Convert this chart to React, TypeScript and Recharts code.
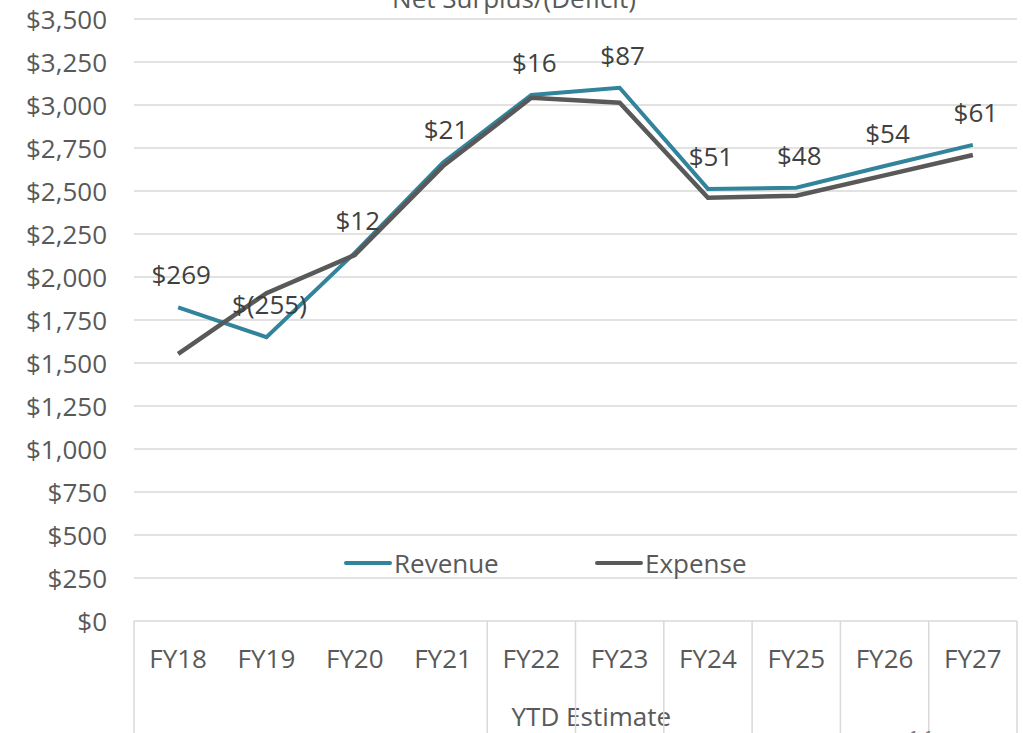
import React from 'react';
import { LineChart, Line, XAxis, YAxis, CartesianGrid, LabelList } from 'recharts';

const categories = ['FY18', 'FY19', 'FY20', 'FY21', 'FY22', 'FY23', 'FY24', 'FY25', 'FY26', 'FY27'];
const revenue = [1824, 1650, 2140, 2666, 3058, 3100, 2512, 2519, 2645, 2768];
const expense = [1553, 1906, 2128, 2645, 3042, 3013, 2461, 2472, 2591, 2709];
const surplusLabels = ['$269', '$(255)', '$12', '$21', '$16', '$87', '$51', '$48', '$54', '$61'];
const yTicks = [0, 250, 500, 750, 1000, 1250, 1500, 1750, 2000, 2250, 2500, 2750, 3000, 3250, 3500];
const seriesNames = ['Revenue', 'Expense'];
const groupLabel = 'YTD Estimate';
const groupStartIndex = 4;
const titleText = 'Net Surplus/(Deficit)';
const pageNumber = '11';

const data = categories.map((c, i) => ({ name: c, revenue: revenue[i], expense: expense[i] }));

const W = 1023;
const H = 733;
const LEFT = 134;
const RIGHT_MARGIN = 6;
const TOP = 19;
const XAXIS_H = 112;
const plotW = W - LEFT - RIGHT_MARGIN;
const half = plotW / categories.length / 2;
const FONT = '"Open Sans", sans-serif';
const FS = 26;
const REV = '#31849B';
const EXP = '#595959';
const GRID = '#d9d9d9';

const XTick = (props: any) => {
  const { x, y, payload, index } = props;
  const showLeft = index === 0 || index >= groupStartIndex;
  const isLast = index === categories.length - 1;
  return (
    <g>
      {index === groupStartIndex && (
        <text x={x + 60} y={y + 105} textAnchor="middle" fill="#595959" fontSize={FS} fontFamily={FONT}>
          {groupLabel}
        </text>
      )}
      {showLeft && <line x1={x - half} x2={x - half} y1={y} y2={y + XAXIS_H} stroke={GRID} strokeWidth={1.5} />}
      {isLast && <line x1={x + half} x2={x + half} y1={y} y2={y + XAXIS_H} stroke={GRID} strokeWidth={1.5} />}
      <text x={x} y={y + 47} textAnchor="middle" fill="#595959" fontSize={FS} fontFamily={FONT}>
        {payload.value}
      </text>
    </g>
  );
};

const YTick = (props: any) => {
  const { x, y, payload } = props;
  return (
    <text x={x} y={y + 9.5} textAnchor="end" fill="#595959" fontSize={FS} fontFamily={FONT}>
      {'$' + Number(payload.value).toLocaleString('en-US')}
    </text>
  );
};

const SurplusLabel = (props: any) => {
  const { x, y, index } = props;
  return (
    <text x={x + 3} y={y - 23} textAnchor="middle" fill="#404040" fontSize={FS} fontFamily={FONT}>
      {surplusLabels[index]}
    </text>
  );
};

const legendColors = [REV, EXP];
const legendLefts = [344, 595];

export default function App() {
  return (
    <div style={{ position: 'absolute', left: 0, top: 0, width: W, height: H, overflow: 'hidden', background: '#fff' }}>
      <LineChart width={W} height={H} data={data} margin={{ top: TOP, right: RIGHT_MARGIN, left: 0, bottom: 0 }}>
        <CartesianGrid vertical={false} stroke={GRID} strokeWidth={1.5} />
        <XAxis
          dataKey="name"
          height={XAXIS_H}
          padding={{ left: half, right: half }}
          axisLine={false}
          tickLine={false}
          tickSize={0}
          tickMargin={0}
          interval={0}
          tick={<XTick />}
        />
        <YAxis
          width={LEFT}
          domain={[0, 3500]}
          ticks={yTicks}
          axisLine={false}
          tickLine={false}
          tickSize={0}
          tickMargin={27}
          interval={0}
          tick={<YTick />}
        />
        <Line
          type="linear"
          dataKey="revenue"
          name={seriesNames[0]}
          stroke={REV}
          strokeWidth={4}
          dot={false}
          activeDot={false}
          isAnimationActive={false}
        >
          <LabelList dataKey="revenue" content={<SurplusLabel />} />
        </Line>
        <Line
          type="linear"
          dataKey="expense"
          name={seriesNames[1]}
          stroke={EXP}
          strokeWidth={4.5}
          dot={false}
          activeDot={false}
          isAnimationActive={false}
        />
      </LineChart>
      <div
        style={{
          position: 'absolute',
          left: 0,
          top: -19,
          width: 1028,
          textAlign: 'center',
          fontFamily: FONT,
          fontSize: FS,
          color: '#595959',
          lineHeight: '34px',
          whiteSpace: 'nowrap',
        }}
      >
        {titleText}
      </div>
      {seriesNames.map((n, i) => (
        <div
          key={n}
          style={{
            position: 'absolute',
            left: legendLefts[i],
            top: 546,
            display: 'flex',
            alignItems: 'center',
            fontFamily: FONT,
            fontSize: FS,
            color: '#595959',
            lineHeight: '34px',
            whiteSpace: 'nowrap',
          }}
        >
          <svg width={48} height={10} style={{ marginRight: 2 }}>
            <line x1={2} x2={46} y1={5} y2={5} stroke={legendColors[i]} strokeWidth={4} strokeLinecap="round" />
          </svg>
          <span>{n}</span>
        </div>
      ))}
      <div
        style={{
          position: 'absolute',
          left: 906,
          top: 722,
          fontFamily: FONT,
          fontSize: FS,
          color: '#7f7f7f',
          lineHeight: '34px',
        }}
      >
        {pageNumber}
      </div>
    </div>
  );
}
